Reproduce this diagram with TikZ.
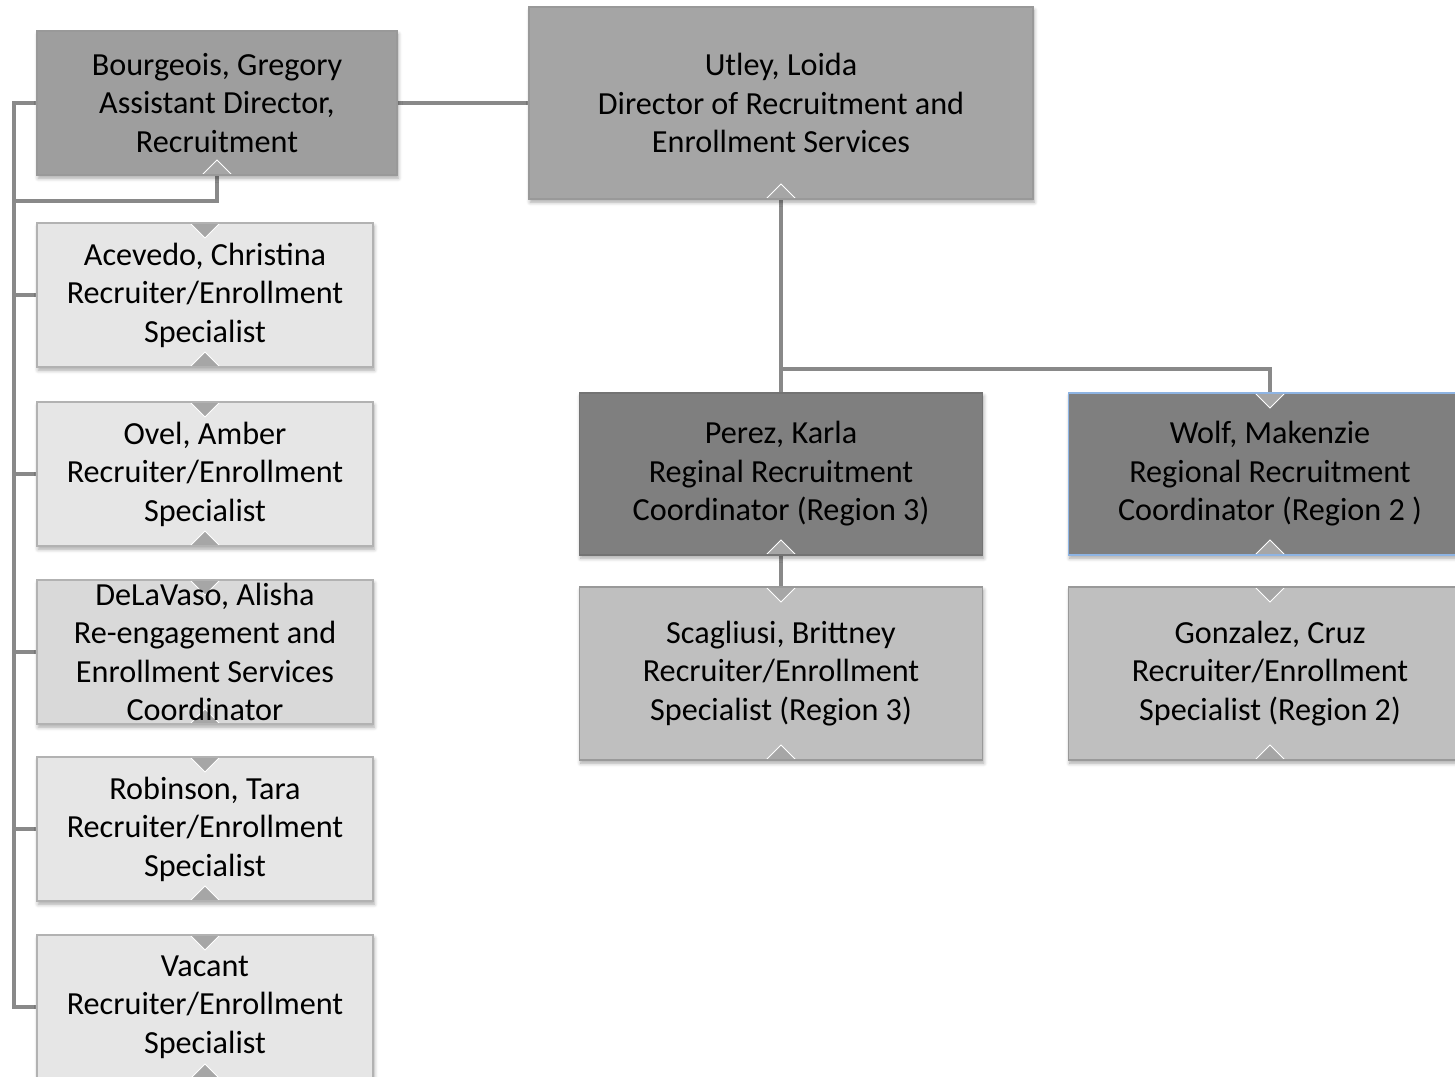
\documentclass[tikz,border=0pt]{standalone}
\usepackage{fontspec}
\setmainfont{Carlito}
\usetikzlibrary{shadows.blur,backgrounds}

\definecolor{linkgray}{HTML}{898989}
\definecolor{topgray}{HTML}{A5A5A5}
\definecolor{leadgray}{HTML}{7F7F7F}
\definecolor{staffgray}{HTML}{BFBFBF}
\definecolor{palegray}{HTML}{E6E6E6}
\definecolor{midgray}{HTML}{D9D9D9}
\definecolor{wolfblue}{HTML}{8EB4E3}

\tikzset{
  notch/.style={fill=black!35, draw=white, line width=0.5pt},
  upnotch/.code={\filldraw[notch] (path picture bounding box.south) ++(-7.5pt,0) -- ++(7.5pt,7.5pt) -- ++(7.5pt,-7.5pt) -- cycle;},
  downnotch/.code={\filldraw[notch] (path picture bounding box.north) ++(-7.5pt,0) -- ++(7.5pt,-7.5pt) -- ++(7.5pt,7.5pt) -- cycle;},
  botnotch/.style={path picture={\pgfkeys{/tikz/upnotch}}},
  bothnotch/.style={path picture={\pgfkeys{/tikz/upnotch}\pgfkeys{/tikz/downnotch}}},
  box/.style={draw=black!40, line width=0.7pt, inner sep=0pt, align=center,
    font=\fontsize{16.1}{19.25}\selectfont,
    blur shadow={shadow xshift=0.6pt, shadow yshift=-1.6pt, shadow blur steps=5, shadow opacity=35}},
  headbox/.style={box, botnotch, fill=topgray, minimum width=252pt, minimum height=96pt},
  asstbox/.style={box, botnotch, fill=topgray!96!black, minimum width=180pt, minimum height=72pt},
  staffbox/.style={box, bothnotch, fill=palegray, draw=black!30, minimum width=168pt, minimum height=72pt},
  leadbox/.style={box, fill=leadgray, draw=black!55, minimum width=201.5pt, minimum height=81pt},
  regbox/.style={box, bothnotch, fill=staffgray, draw=black!40, minimum width=201.5pt, minimum height=86.5pt},
  link/.style={draw=linkgray, line width=1.6pt}
}

\begin{document}
\begin{tikzpicture}[x=0.5pt,y=-0.5pt]
\useasboundingbox (0,0) rectangle (1455,1076);
\clip (0,0) rectangle (1455,1076);

\node[headbox] (util) at (781,103) {Utley, Loida\\Director of Recruitment and\\Enrollment Services};
\node[asstbox] (bourg) at (217,103) {Bourgeois, Gregory\\Assistant Director,\\Recruitment};
\node[staffbox] (acev) at (205,295) {Acevedo, Christina\\Recruiter/Enrollment\\Specialist};
\node[staffbox] (ovel) at (205,474) {Ovel, Amber\\Recruiter/Enrollment\\Specialist};
\node[staffbox, fill=midgray] (dela) at (205,652) {DeLaVaso, Alisha\\Re-engagement and\\Enrollment Services\\Coordinator};
\node[staffbox] (robin) at (205,829) {Robinson, Tara\\Recruiter/Enrollment\\Specialist};
\node[staffbox] (vacant) at (205,1007) {Vacant\\Recruiter/Enrollment\\Specialist};
\node[leadbox, botnotch] (perez) at (781,474) {Perez, Karla\\Reginal Recruitment\\Coordinator (Region 3)};
\node[leadbox, bothnotch, draw=wolfblue] (wolf) at (1270,474) {Wolf, Makenzie\\Regional Recruitment\\Coordinator (Region 2 )};
\node[regbox] (scag) at (781,673.5) {Scagliusi, Brittney\\Recruiter/Enrollment\\Specialist (Region 3)};
\node[regbox] (gonz) at (1270,673.5) {Gonzalez, Cruz\\Recruiter/Enrollment\\Specialist (Region 2)};

% free ends of the bus on the left
\coordinate (bustop) at (14,103);
\coordinate (busbend) at (14,201);
\coordinate (busbot) at (14,1007);
\coordinate (split) at (781,369);

\begin{scope}[on background layer]
\draw[link] (bourg) -- (util);
\draw[link] (bourg.west) -- (bustop) -- (busbot) -- (vacant.west);
\draw[link] (bourg.south) |- (busbend);
\foreach \n in {acev,ovel,dela,robin} {\draw[link] (\n.west -| bustop) -- (\n.west);}
\draw[link] (util.south) -- (split) -| (wolf.north);
\draw[link] (split) -- (perez.north);
\draw[link] (perez.south) -- (scag.north);
\end{scope}
\end{tikzpicture}
\end{document}
